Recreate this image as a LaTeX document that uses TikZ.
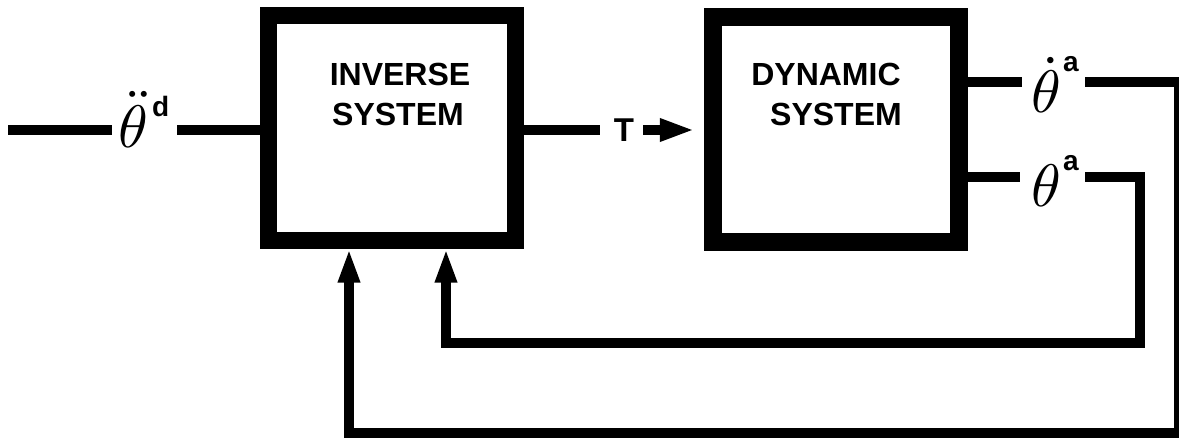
\documentclass[tikz,border=0pt]{standalone}
\usepackage{graphicx}
\usepackage{fontspec}
\newfontfamily\hv{Liberation Sans}
\usetikzlibrary{arrows.meta}
\newcommand{\supfont}{\hv\bfseries\fontsize{28}{28}\selectfont}
\begin{document}
\begin{tikzpicture}[x=1pt,y=-1pt,
  blk/.style={draw=black, line width=#1, minimum width=247pt, minimum height=224pt, inner sep=0pt},
  wire/.style={draw=black, line width=10pt, line join=miter, line cap=butt},
  tipA/.style={-{Triangle[length=35pt,width=21pt]}},
  tipB/.style={-{Triangle[length=34pt,width=20pt]}},
  lbl/.style={inner sep=0pt, anchor=base west},
  txt/.style={font=\hv\bfseries\fontsize{32}{32}\selectfont, inner sep=0pt, anchor=base}]
\useasboundingbox[fill=white] (0,0) rectangle (1179,444);

% blocks
\node[blk=17pt] (inv) at (392,128) {};
\node[blk=18pt, minimum width=246.5pt] (dyn) at (836,129.5) {};
\node[txt] (inv1) at (400,85) {INVERSE};
\node[txt] (inv2) at (398,125) {SYSTEM};
\node[txt] (dyn1) at (826,85) {DYNAMIC};
\node[txt] (dyn2) at (836,125) {SYSTEM};

% labels
\node[lbl] (thdd) at (118,147) {\scalebox{6}{$\ddot{\theta}$}\hspace{4pt}\raisebox{31pt}{\supfont d}};
\node[lbl] (thda) at (1031,113) {\scalebox{6}{$\dot{\theta}$}\hspace{2pt}\raisebox{41pt}{\supfont a}};
\node[lbl] (tha) at (1031,206) {\scalebox{6}{$\theta$}\hspace{2pt}\raisebox{36pt}{\supfont a}};
\node[txt, font=\hv\bfseries\fontsize{33}{33}\selectfont] (T) at (624,142) {T};

% coordinates
\coordinate (in) at (8,130);
\coordinate (in2) at (177,130);
\coordinate (tA) at (600,130);
\coordinate (tB) at (643,130);
\coordinate (o1) at (1022,82);
\coordinate (o1b) at (1085,82);
\coordinate (c1) at (1179,82);
\coordinate (c2) at (1179,433);
\coordinate (c3) at (349,433);
\coordinate (fb1) at (349,248.5);
\coordinate (o2) at (1020,177);
\coordinate (o2b) at (1085,177);
\coordinate (d1) at (1140,177);
\coordinate (d2) at (1140,343);
\coordinate (d3) at (446,343);
\coordinate (fb2) at (446,248.5);

% connectors
\draw[wire, shorten >=6pt] (in) -- (in -| thdd.west);
\draw[wire] (in2) -- (in2 -| inv.west);
\draw[wire] (tA -| inv.east) -- (tA);
\draw[wire, tipA, shorten >=9pt] (tB) -- (tB -| dyn.west);
\draw[wire] (o1 -| dyn.east) -- (o1);
\draw[wire, tipB] (o1b) -- (c1) -- (c2) -- (c3) -- (fb1);
\draw[wire] (o2 -| dyn.east) -- (o2);
\draw[wire, tipB] (o2b) -- (d1) -- (d2) -- (d3) -- (fb2);
\end{tikzpicture}
\end{document}
